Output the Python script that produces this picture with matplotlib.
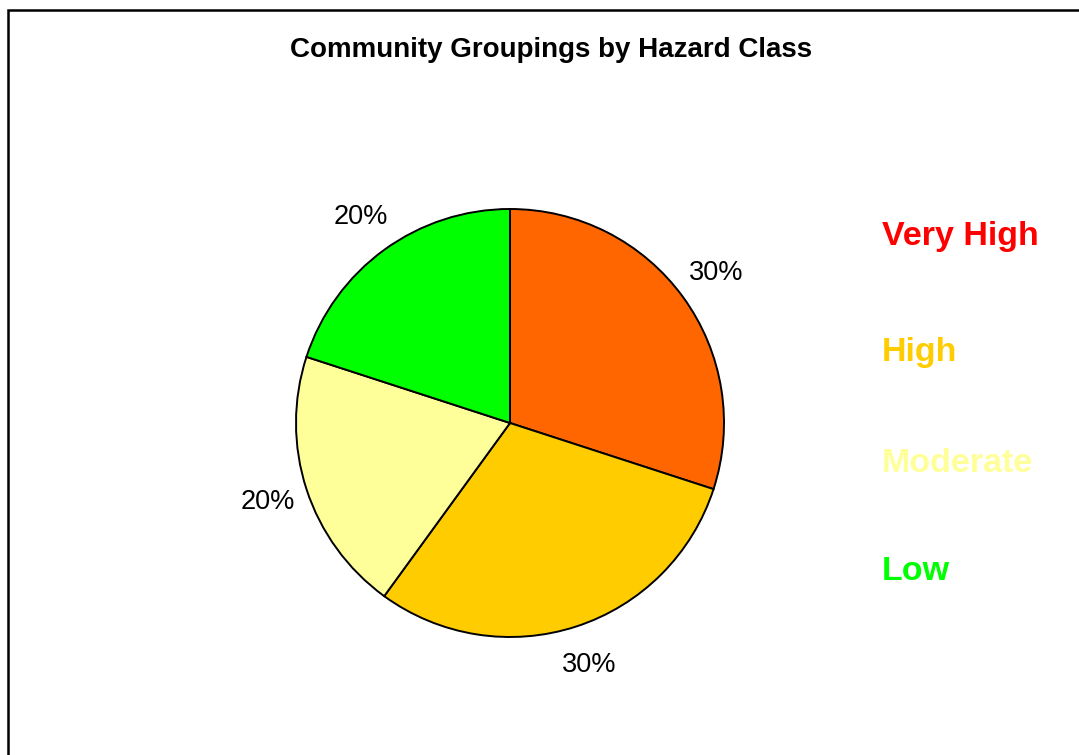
import matplotlib.pyplot as plt
from matplotlib.patches import Rectangle

plt.rcParams["font.family"] = ["Liberation Sans", "DejaVu Sans"]

classes = ["Very High", "High", "Moderate", "Low"]
shares = [30, 30, 20, 20]
slice_colors = ["#FF6600", "#FFCC00", "#FFFF99", "#00FF00"]
label_colors = ["#FF0000", "#FFCC00", "#FFFF99", "#00FF00"]

W, H = 1079, 755
fig = plt.figure(figsize=(W / 100, H / 100), dpi=100)

# chart frame (runs off the right and bottom edges)
fig.patches.append(Rectangle((8 / W, -0.1), 1.2, 1.1 - 10 / H,
                             transform=fig.transFigure, fill=False,
                             edgecolor="black", linewidth=1.8))

cx, cy, r = 510, 423, 214
ax = fig.add_axes([(cx - r) / W, (H - cy - r) / H, 2 * r / W, 2 * r / H])
ax.pie(shares, colors=slice_colors, startangle=90, counterclock=False,
       autopct="%d%%", pctdistance=1.19,
       wedgeprops=dict(edgecolor="black", linewidth=1.4),
       textprops=dict(fontsize=19.5, color="black"))
ax.set_xlim(-1, 1)
ax.set_ylim(-1, 1)

fig.text(551 / W, 1 - 50 / H, "Community Groupings by Hazard Class",
         ha="center", va="center", fontsize=20, fontweight="bold")

# class names as a coloured text legend
ys = [236, 352, 464, 571]
for name, col, y in zip(classes, label_colors, ys):
    fig.text(882 / W, 1 - y / H, name, ha="left", va="center",
             fontsize=24.5, fontweight="bold", color=col)

fig.savefig("out.png", dpi=100)
